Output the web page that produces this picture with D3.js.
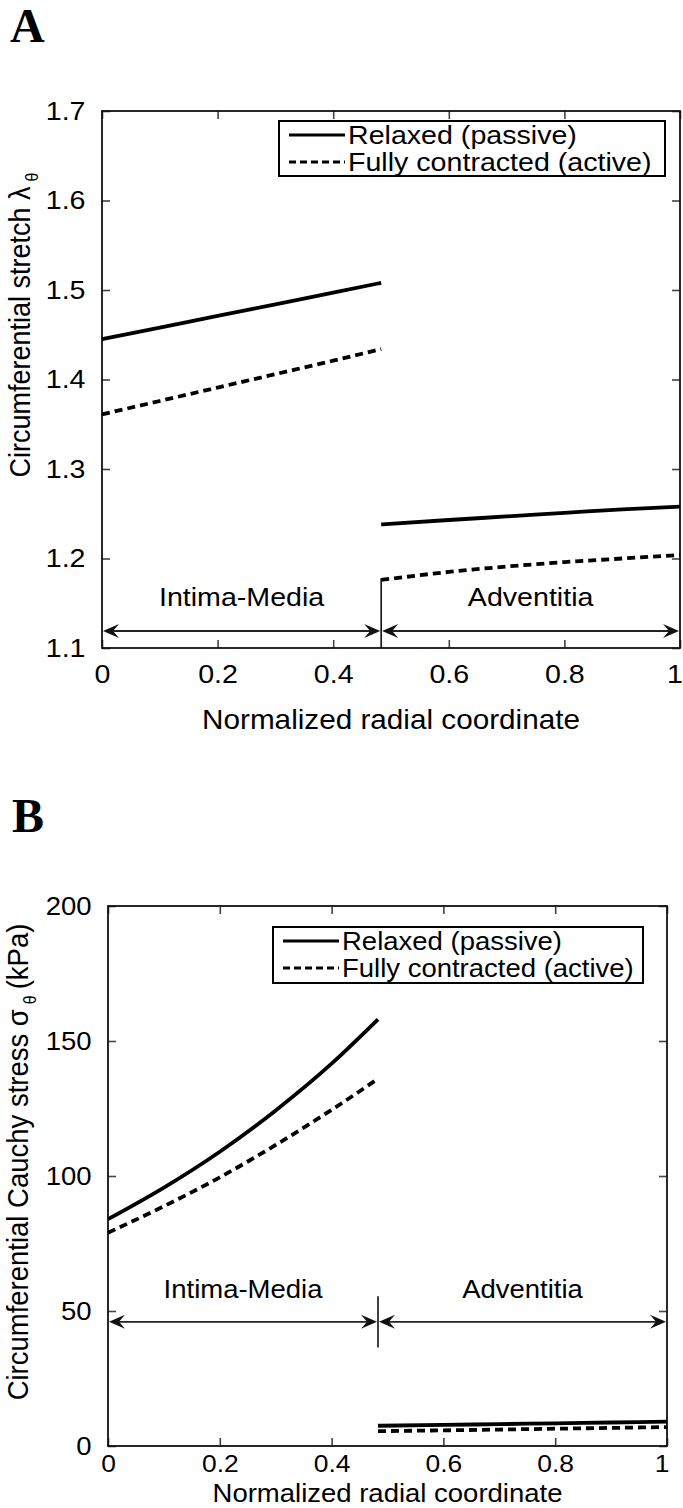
<!DOCTYPE html>
<html><head><meta charset="utf-8">
<script src="https://cdn.jsdelivr.net/npm/d3@7"></script>
<style>
body{margin:0;background:#fff}
svg{display:block}
text{font-family:"Liberation Sans",Arial,Helvetica,sans-serif;fill:#000}
</style>
</head><body>
<svg id="c" width="683" height="1508"></svg>
<script>
// ---------- data ----------
const xTicks = [0, 0.2, 0.4, 0.6, 0.8, 1];
const xTickLabels = ["0", "0.2", "0.4", "0.6", "0.8", "1"];
const stretchTicks = [1.1, 1.2, 1.3, 1.4, 1.5, 1.6, 1.7];
const stretchTickLabels = ["1.1", "1.2", "1.3", "1.4", "1.5", "1.6", "1.7"];
const stressTicks = [0, 50, 100, 150, 200];
const stressTickLabels = ["0", "50", "100", "150", "200"];
const boundary = 0.483;
const intimaX = [0, 0.1, 0.2, 0.3, 0.4, 0.483];
const adventitiaX = [0.483, 0.6, 0.7, 0.8, 0.9, 1];
const stretchRelaxedIntima = [1.445, 1.458, 1.471, 1.484, 1.497, 1.508];
const stretchActiveIntima = [1.361, 1.376, 1.391, 1.406, 1.421, 1.434];
const stretchRelaxedAdventitia = [1.238, 1.243, 1.247, 1.251, 1.255, 1.258];
const stretchActiveAdventitia = [1.176, 1.185, 1.191, 1.196, 1.200, 1.204];
const stressRelaxedIntima = [84, 95.7, 109, 124.3, 141.6, 158];
const stressActiveIntima = [79, 88.8, 99.5, 111.5, 124.5, 136];
const stressRelaxedAdventitia = [7.5, 7.8, 8.1, 8.4, 8.7, 9.0];
const stressActiveAdventitia = [5.5, 5.8, 6.1, 6.4, 6.7, 7.0];
const legendLabels = ["Relaxed (passive)", "Fully contracted (active)"];
const regionLabels = ["Intima-Media", "Adventitia"];
const panelLetters = ["A", "B"];
const xTitle = "Normalized radial coordinate";

// ---------- drawing ----------
const svg = d3.select("#c");
const SX = 1.1; // horizontal stretch of the reference lettering

function drawPanel(p) {
  const x = d3.scaleLinear().domain([0, 1]).range([p.left, p.right]);
  const y = d3.scaleLinear().domain(p.yDomain).range([p.bottom, p.top]);
  const g = svg.append("g");
  const fs = p.fs;

  function htext(tx, ty, str, size, anchor) {
    return g.append("text").attr("transform", `translate(${tx},${ty}) scale(${SX},1)`)
      .attr("text-anchor", anchor || "start").style("font-size", size + "px").text(str);
  }

  // panel letter
  g.append("text").attr("x", p.letterX).attr("y", p.letterY)
    .style("font-family", '"Liberation Serif","Times New Roman",serif')
    .style("font-weight", "bold").style("font-size", "48px").text(p.letter);

  // axes with inward ticks (box style)
  const bottom = g.append("g").attr("transform", `translate(0,${p.bottom})`)
    .call(d3.axisBottom(x).tickValues(xTicks).tickFormat((d, i) => xTickLabels[i])
      .tickSize(-8).tickSizeOuter(0).tickPadding(p.xPad));
  const top = g.append("g").attr("transform", `translate(0,${p.top})`)
    .call(d3.axisTop(x).tickValues(xTicks).tickFormat("").tickSize(-8).tickSizeOuter(0));
  const left = g.append("g").attr("transform", `translate(${p.left},0)`)
    .call(d3.axisLeft(y).tickValues(p.yTicks).tickFormat((d, i) => p.yTickLabels[i])
      .tickSize(-8).tickSizeOuter(0).tickPadding(15));
  const right = g.append("g").attr("transform", `translate(${p.right},0)`)
    .call(d3.axisRight(y).tickValues(p.yTicks).tickFormat("").tickSize(-8).tickSizeOuter(0));
  [bottom, top, left, right].forEach(a => {
    a.select(".domain").remove();
    a.selectAll(".tick line").attr("stroke", "#444").attr("stroke-width", 1.6);
    a.selectAll("text").style("font-size", fs.tick + "px")
      .style("font-family", '"Liberation Sans",Arial,sans-serif')
      .attr("fill", "#000")
      .attr("transform", `scale(${SX},1)`);
  });
  bottom.selectAll(".tick text").style("font-size", fs.xtick + "px");
  bottom.selectAll(".tick text").filter((d, i) => i === xTicks.length - 1).attr("dx", -5);
  g.append("rect").attr("x", p.left).attr("y", p.top)
    .attr("width", p.right - p.left).attr("height", p.bottom - p.top)
    .attr("fill", "none").attr("stroke", "#111").attr("stroke-width", 1.8);

  // axis titles
  htext((p.left + p.right) / 2, p.xTitleY, xTitle, fs.title, "middle");
  const yt = g.append("text").attr("text-anchor", "middle")
    .attr("transform", `translate(${p.yTitleX},${p.yTitleY}) rotate(-90) scale(1,${SX})`)
    .style("font-size", fs.ytitle + "px");
  yt.append("tspan").text(p.yTitle);
  yt.append("tspan").attr("dx", 5).attr("dy", 7).style("font-size", "16px").text("\u03b8");
  if (p.yTitleSuffix) yt.append("tspan").attr("dy", -7).attr("dx", 6).text(p.yTitleSuffix);

  // curves
  const line = d3.line().x(d => x(d[0])).y(d => y(d[1])).curve(d3.curveMonotoneX);
  p.series.forEach(s => {
    g.append("path").datum(s.xs.map((v, i) => [v, s.ys[i]]))
      .attr("d", line).attr("fill", "none").attr("stroke", "#000")
      .attr("stroke-width", 3.8)
      .attr("stroke-dasharray", s.dashed ? "8,5" : null);
  });

  // boundary line
  g.append("line").attr("x1", x(boundary)).attr("x2", x(boundary))
    .attr("y1", y(p.vLine[0])).attr("y2", y(p.vLine[1]))
    .attr("stroke", "#111").attr("stroke-width", 1.6);

  // double arrows
  function arrow(x0, x1, yy) {
    const a = g.append("g");
    a.append("line").attr("x1", x0 + 4).attr("x2", x1 - 4).attr("y1", yy).attr("y2", yy)
      .attr("stroke", "#222").attr("stroke-width", 1.8);
    a.append("path").attr("d", `M${x0},${yy} L${x0 + 16},${yy - 7} L${x0 + 10},${yy} L${x0 + 16},${yy + 7} Z`).attr("fill", "#111");
    a.append("path").attr("d", `M${x1},${yy} L${x1 - 16},${yy - 7} L${x1 - 10},${yy} L${x1 - 16},${yy + 7} Z`).attr("fill", "#111");
  }
  const ay = y(p.arrowY);
  arrow(x(0) + 1, x(boundary) - 1, ay);
  arrow(x(boundary) + 1, x(1) - 1, ay);
  htext((x(0) + x(boundary)) / 2, y(p.regionLabelY), regionLabels[0], fs.region, "middle").attr("dy", "0.35em");
  htext((x(boundary) + x(1)) / 2, y(p.regionLabelY), regionLabels[1], fs.region, "middle").attr("dy", "0.35em");

  // legend
  const L = p.legend;
  g.append("rect").attr("x", L.x).attr("y", L.y).attr("width", L.w).attr("height", L.h)
    .attr("fill", "#fff").attr("stroke", "#000").attr("stroke-width", 2);
  legendLabels.forEach((lab, i) => {
    const ly = L.y + 14 + i * 27;
    g.append("line").attr("x1", L.x + 10).attr("x2", L.x + 66).attr("y1", ly).attr("y2", ly)
      .attr("stroke", "#000").attr("stroke-width", 3.2)
      .attr("stroke-dasharray", i === 1 ? "7,4" : null);
    htext(L.x + 69, ly, lab, fs.legend, "start").attr("dy", "0.35em");
  });
}

drawPanel({
  letter: panelLetters[0], letterX: 10, letterY: 42,
  left: 102, right: 680, top: 111, bottom: 648,
  yDomain: [1.1, 1.7], yTicks: stretchTicks, yTickLabels: stretchTickLabels,
  xPad: 17, xTitleY: 729, yTitleX: 30, yTitleY: 325,
  fs: {tick: 26, xtick: 26, title: 27, ytitle: 27, region: 26, legend: 26},
  yTitle: "Circumferential stretch \u03bb", yTitleSuffix: null,
  series: [
    {xs: intimaX, ys: stretchRelaxedIntima, dashed: false},
    {xs: intimaX, ys: stretchActiveIntima, dashed: true},
    {xs: adventitiaX, ys: stretchRelaxedAdventitia, dashed: false},
    {xs: adventitiaX, ys: stretchActiveAdventitia, dashed: true}
  ],
  vLine: [1.1, 1.178], arrowY: 1.119, regionLabelY: 1.157,
  legend: {x: 279, y: 121, w: 386, h: 55}
});

drawPanel({
  letter: panelLetters[1], letterX: 12, letterY: 832,
  left: 108, right: 667, top: 906, bottom: 1446,
  yDomain: [0, 200], yTicks: stressTicks, yTickLabels: stressTickLabels,
  xPad: 9, xTitleY: 1502, yTitleX: 28, yTitleY: 1162,
  fs: {tick: 25, xtick: 24, title: 25, ytitle: 27.5, region: 25, legend: 25},
  yTitle: "Circumferential Cauchy stress \u03c3", yTitleSuffix: "(kPa)",
  series: [
    {xs: intimaX, ys: stressRelaxedIntima, dashed: false},
    {xs: intimaX, ys: stressActiveIntima, dashed: true},
    {xs: adventitiaX, ys: stressRelaxedAdventitia, dashed: false},
    {xs: adventitiaX, ys: stressActiveAdventitia, dashed: true}
  ],
  vLine: [36.5, 55.5], arrowY: 46, regionLabelY: 58,
  legend: {x: 273, y: 927, w: 370, h: 56}
});
</script>
</body></html>
